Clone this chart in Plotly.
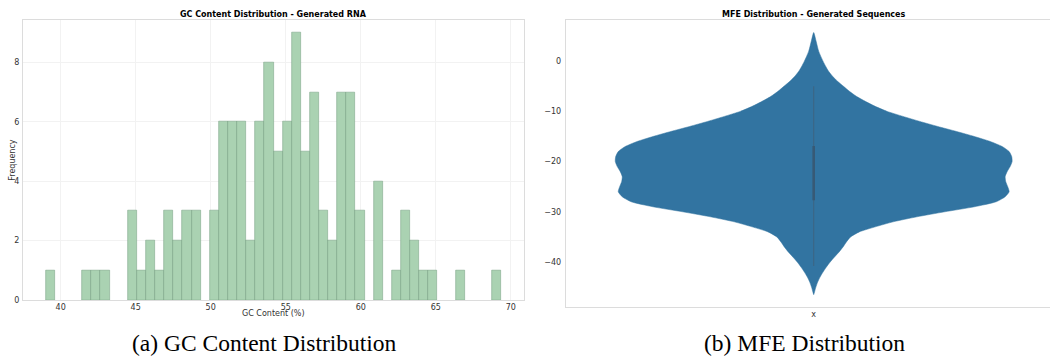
import plotly.graph_objects as go

# ---------------- data ----------------
# (a) GC content histogram: 50 equal bins starting at gc_bin_start
gc_bin_start = 39.01
gc_bin_width = 0.607
gc_counts = [1, 0, 0, 0, 1, 1, 1, 0, 0, 3,
             1, 2, 1, 3, 2, 3, 3, 0, 3, 6,
             6, 6, 2, 6, 8, 5, 6, 9, 5, 7,
             3, 2, 7, 7, 3, 0, 4, 0, 1, 3,
             2, 1, 1, 0, 0, 1, 0, 0, 0, 1]
gc_xticks = [40, 45, 50, 55, 60, 65, 70]
gc_yticks = [0, 2, 4, 6, 8]

# (b) MFE violin: relative density (max = 1) at MFE levels
mfe_levels = [5.7, 4, 2, 0, -1, -2, -3, -4, -5, -6, -7, -8, -9, -10,
              -11, -12, -13, -14, -15, -16, -17, -18, -19, -20,
              -21, -22, -23, -24, -25, -26, -27, -28, -29, -30,
              -31, -32, -33, -34, -35, -36, -37, -38, -39, -40,
              -41, -42, -43, -44, -45, -46, -46.5]
mfe_density = [0.0, 0.012, 0.025, 0.047, 0.06, 0.075, 0.095, 0.12, 0.15, 0.18,
               0.215, 0.26, 0.31, 0.37,
               0.45, 0.535, 0.625, 0.72, 0.81, 0.89, 0.95, 0.985, 0.998, 1.0,
               0.99, 0.975, 0.965, 0.968, 0.978, 0.985, 0.965, 0.92, 0.81, 0.66,
               0.52, 0.40, 0.31, 0.23, 0.186, 0.165, 0.148, 0.128, 0.105, 0.083,
               0.064, 0.047, 0.032, 0.02, 0.011, 0.004, 0.0]
mfe_whiskers = [-40.8, -5.0]
mfe_quartiles = [-27.7, -16.9]
mfe_yticks = [0, -10, -20, -30, -40]

# ---------------- layout constants ----------------
W, H = 1050, 356
def px_x(p):
    return p / W
def px_y(p):
    return 1 - p / H

TICK_FONT = dict(family="DejaVu Sans", size=8, color="#333333")
FRAME = "#dcdcdc"
GRID = "#f2f2f2"

fig = go.Figure()

# ---- histogram ----
centers = [gc_bin_start + (i + 0.5) * gc_bin_width for i in range(len(gc_counts))]
fig.add_trace(go.Bar(
    x=centers,
    y=[c if c > 0 else None for c in gc_counts],
    width=gc_bin_width,
    marker=dict(color="#aad2b2", line=dict(color="rgba(105,150,118,0.65)", width=0.7)),
    xaxis="x", yaxis="y", showlegend=False,
))

# ---- violin (outline from density) ----
half = 0.4
vx = [-half * d for d in mfe_density] + [half * d for d in reversed(mfe_density)]
vy = list(mfe_levels) + list(reversed(mfe_levels))
fig.add_trace(go.Scatter(
    x=vx, y=vy, mode="lines", fill="toself", fillcolor="#3274a1",
    line=dict(color="#3274a1", width=0.5, shape="spline", smoothing=0.6),
    xaxis="x2", yaxis="y2", showlegend=False, hoverinfo="skip",
))
fig.add_trace(go.Scatter(
    x=[0, 0], y=mfe_whiskers, mode="lines",
    line=dict(color="#3d6584", width=1.1),
    xaxis="x2", yaxis="y2", showlegend=False,
))
fig.add_trace(go.Scatter(
    x=[0, 0], y=mfe_quartiles, mode="lines",
    line=dict(color="#375a76", width=2.6),
    xaxis="x2", yaxis="y2", showlegend=False,
))

# plot-area pixel boxes (reference picture coordinates)
L1, R1, T1, B1 = 23.0, 524.0, 19.5, 300.0
L2, R2, T2, B2 = 565.7, 1050.0, 19.5, 307.0

x_lo, x_hi = gc_bin_start, gc_bin_start + gc_bin_width * len(gc_counts)
pad = 0.05 * (x_hi - x_lo)
vx_hi = -0.5 + (R2 - L2) / 496.0

fig.update_layout(
    width=W, height=H,
    margin=dict(l=0, r=0, t=0, b=0, autoexpand=False),
    paper_bgcolor="white", plot_bgcolor="white",
    bargap=0,
    xaxis=dict(domain=[px_x(L1), px_x(R1)], range=[x_lo - pad, x_hi + pad],
               tickvals=gc_xticks, tickfont=TICK_FONT, automargin=False,
               showgrid=True, gridcolor=GRID, gridwidth=0.8, zeroline=False,
               showline=True, linecolor=FRAME, linewidth=1, mirror=True,
               ticks="", ticklabelstandoff=-1),
    yaxis=dict(domain=[px_y(B1), px_y(T1)], range=[0, 9.45],
               tickvals=gc_yticks, tickfont=TICK_FONT, automargin=False,
               showgrid=True, gridcolor=GRID, gridwidth=0.8, zeroline=False,
               showline=True, linecolor=FRAME, linewidth=1, mirror=True,
               ticks="outside", ticklen=1, tickcolor="rgba(0,0,0,0)"),
    xaxis2=dict(domain=[px_x(L2), px_x(R2)], range=[-0.5, vx_hi],
                tickvals=[0], ticktext=["x"], tickfont=TICK_FONT, automargin=False,
                showgrid=False, zeroline=False,
                showline=True, linecolor=FRAME, linewidth=1, mirror=True,
                ticks="", ticklabelstandoff=-1, anchor="y2"),
    yaxis2=dict(domain=[px_y(B2), px_y(T2)], range=[-48.96, 8.3],
                tickvals=mfe_yticks,
                ticktext=[("\u2212" + str(-v)) if v < 0 else str(v) for v in mfe_yticks],
                tickfont=TICK_FONT, automargin=False,
                showgrid=False, zeroline=False,
                showline=True, linecolor=FRAME, linewidth=1,
                ticks="outside", ticklen=2, tickcolor="rgba(0,0,0,0)", anchor="x2"),
)

ann = []
TITLE_FONT = dict(family="DejaVu Sans", size=8, color="black")
ann.append(dict(text="<b>GC Content Distribution - Generated RNA</b>", x=px_x((L1 + R1) / 2), y=px_y(14.5),
                xref="paper", yref="paper", showarrow=False, font=TITLE_FONT, xanchor="center", yanchor="middle"))
ann.append(dict(text="<b>MFE Distribution - Generated Sequences</b>", x=px_x(813.7), y=px_y(14.5),
                xref="paper", yref="paper", showarrow=False, font=TITLE_FONT, xanchor="center", yanchor="middle"))
LABEL_FONT = dict(family="DejaVu Sans", size=8, color="#333333")
ann.append(dict(text="GC Content (%)", x=px_x((L1 + R1) / 2), y=px_y(313),
                xref="paper", yref="paper", showarrow=False, font=LABEL_FONT, xanchor="center", yanchor="middle"))
ann.append(dict(text="Frequency", x=px_x(13), y=px_y((T1 + B1) / 2), textangle=-90,
                xref="paper", yref="paper", showarrow=False, font=LABEL_FONT, xanchor="center", yanchor="middle"))
CAP_FONT = dict(family="Liberation Serif", size=23.5, color="black")
ann.append(dict(text="(a) GC Content Distribution", x=px_x(264.5), y=px_y(342.5),
                xref="paper", yref="paper", showarrow=False, font=CAP_FONT, xanchor="center", yanchor="middle"))
ann.append(dict(text="(b) MFE Distribution", x=px_x(804), y=px_y(342.5),
                xref="paper", yref="paper", showarrow=False, font=CAP_FONT, xanchor="center", yanchor="middle"))
fig.update_layout(annotations=ann)

# make the page exactly the figure: no body margin, no inline gaps, no scrolling
page_css = ("var s=document.documentElement.style;s.margin='0';s.padding='0';s.overflow='hidden';"
            "var b=document.body.style;b.margin='0';b.padding='0';b.overflow='hidden';"
            "b.lineHeight='0';b.fontSize='0';b.height='356px';")
fig.write_html("out.html", config={"displayModeBar": False}, post_script=page_css)
